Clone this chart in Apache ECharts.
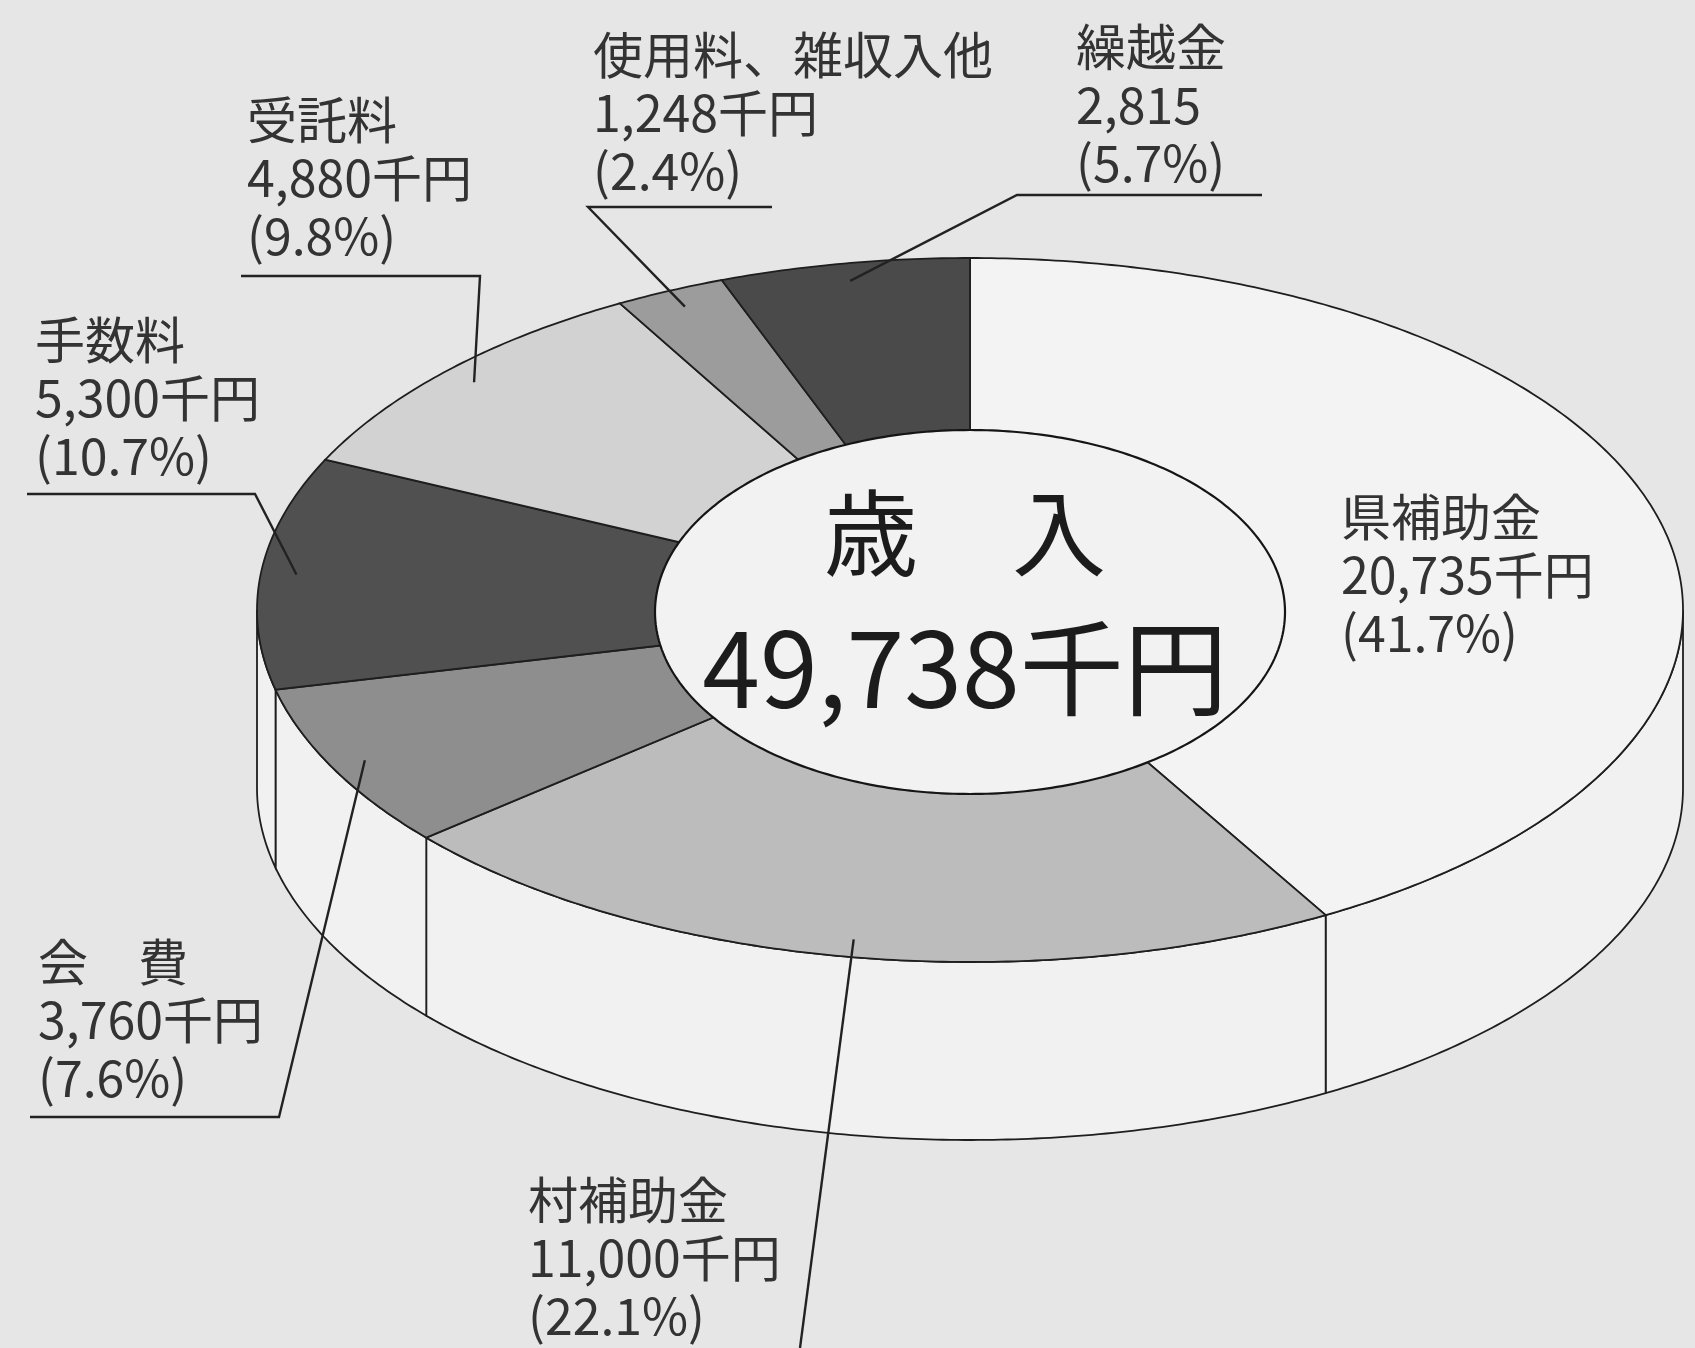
<!DOCTYPE html>
<html>
<head>
<meta charset="utf-8">
<script src="https://cdn.jsdelivr.net/npm/echarts@6/dist/echarts.min.js"></script>
<style>
html, body { margin: 0; padding: 0; background: #e6e6e6; }
#main { width: 1695px; height: 1348px; }
</style>
</head>
<body>
<div id="main"></div>
<script>
// 歳入の内訳（千円）
var names = ['県補助金', '村補助金', '会　費', '手数料', '受託料', '使用料、雑収入他', '繰越金'];
var values = [20735, 11000, 3760, 5300, 4880, 1248, 2815];
var amountLabels = ['20,735千円', '11,000千円', '3,760千円', '5,300千円', '4,880千円', '1,248千円', '2,815'];
var percentLabels = ['(41.7%)', '(22.1%)', '(7.6%)', '(10.7%)', '(9.8%)', '(2.4%)', '(5.7%)'];
var centerTitle = '歳　入';
var centerTotal = '49,738千円';

var colors = ['#f3f3f3', '#bcbcbc', '#8e8e8e', '#505050', '#d2d2d2', '#9c9c9c', '#4a4a4a'];
var fontJP = "'Noto Sans CJK JP', sans-serif";

// 楕円の形 (擬似3D)
var cx = 970, cy = 610, rx = 713, ry = 352, depth = 178;
var total = values.reduce(function (a, b) { return a + b; }, 0);
var starts = [];
var acc = 0;
values.forEach(function (v) {
    starts.push(acc / total * 2 * Math.PI);
    acc += v;
});

function pt(a, k, dy) {
    return [cx + k * rx * Math.sin(a), cy - k * ry * Math.cos(a) + (dy || 0)];
}
function arc(a0, a1, k, dy) {
    var pts = [];
    var n = Math.max(2, Math.ceil((a1 - a0) / 0.01));
    for (var i = 0; i <= n; i++) {
        pts.push(pt(a0 + (a1 - a0) * i / n, k, dy));
    }
    return pts;
}

function renderTop(params, api) {
    var i = params.dataIndex;
    var a0 = starts[i];
    var a1 = a0 + api.value(0) / total * 2 * Math.PI;
    return {
        type: 'polygon',
        shape: { points: [[cx, cy]].concat(arc(a0, a1, 1, 0)) },
        style: { fill: colors[i], stroke: '#1e1e1e', lineWidth: 1.8 }
    };
}

function renderWall(params, api) {
    var i = params.dataIndex;
    var a0 = starts[i];
    var a1 = a0 + api.value(0) / total * 2 * Math.PI;
    var b0 = Math.max(a0, Math.PI / 2);
    var b1 = Math.min(a1, Math.PI * 1.5);
    if (b1 <= b0) return;
    var pts = arc(b0, b1, 1, 0).concat(arc(b0, b1, 1, depth).reverse());
    return {
        type: 'polygon',
        shape: { points: pts },
        style: { fill: '#f1f1f1', stroke: '#1e1e1e', lineWidth: 1.8 }
    };
}

// ラベル位置と引出線
var labelPos = [[1341, 488], [528, 1171], [38, 933], [35, 311], [247, 91], [593, 26], [1076, 18]];
var leaderStart = [
    null,
    [[800, 1348]],
    [[30, 1117], [279, 1117]],
    [[27, 494], [255, 494]],
    [[241, 276], [480, 276]],
    [[772, 207], [588, 207]],
    [[1262, 195], [1017, 195]]
];

var graphics = [];
names.forEach(function (n, i) {
    graphics.push({
        type: 'text', x: labelPos[i][0], y: labelPos[i][1], z: 100,
        style: {
            text: n + '\n' + amountLabels[i] + '\n' + percentLabels[i],
            fontFamily: fontJP, fontSize: 50, lineHeight: 58,
            fill: '#333333', verticalAlign: 'top'
        }
    });
    if (leaderStart[i]) {
        var mid = starts[i] + values[i] / total * Math.PI;
        graphics.push({
            type: 'polyline', z: 100,
            shape: { points: leaderStart[i].concat([pt(mid, 0.95, 0)]) },
            style: { stroke: '#222222', lineWidth: 2.4, fill: null }
        });
    }
});

// 中央の楕円
var hole = [];
for (var k = 0; k <= 360; k++) {
    var t = k / 180 * Math.PI;
    hole.push([970 + 315 * Math.cos(t), 612 + 182 * Math.sin(t)]);
}
graphics.push({
    type: 'polygon', z: 90,
    shape: { points: hole },
    style: { fill: '#f2f2f2', stroke: '#151515', lineWidth: 2.2 }
});
graphics.push({
    type: 'text', x: 965, y: 533, z: 100,
    style: { text: centerTitle, fontFamily: fontJP, fontSize: 94, fill: '#1c1c1c', align: 'center', verticalAlign: 'middle' }
});
graphics.push({
    type: 'text', x: 965, y: 668, z: 100,
    style: { text: centerTotal, fontFamily: fontJP, fontSize: 104, fill: '#1c1c1c', align: 'center', verticalAlign: 'middle' }
});

var chart = echarts.init(document.getElementById('main'));
chart.setOption({
    backgroundColor: '#e6e6e6',
    animation: false,
    series: [
        {
            type: 'custom',
            coordinateSystem: 'none',
            renderItem: renderWall,
            data: values.map(function (v) { return [v]; }),
            z: 1
        },
        {
            type: 'custom',
            coordinateSystem: 'none',
            renderItem: renderTop,
            data: values.map(function (v) { return [v]; }),
            z: 2
        }
    ],
    graphic: graphics
});
</script>
</body>
</html>
